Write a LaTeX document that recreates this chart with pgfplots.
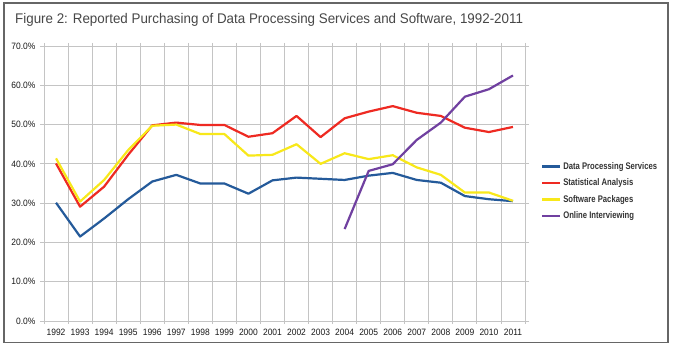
\documentclass[border=0pt]{standalone}
\usepackage{fontspec}
\setmainfont{Liberation Sans}
\usepackage{pgfplots}
\pgfplotsset{compat=1.18}
\newfontfamily\titlefont[FakeStretch=0.955]{Liberation Sans}
\newfontfamily\legfont[FakeStretch=0.8]{Liberation Sans}
\newfontfamily\tickfont[FakeStretch=0.92]{Liberation Sans}
\definecolor{dps}{HTML}{245A9A}
\definecolor{stat}{HTML}{EE2A22}
\definecolor{soft}{HTML}{F8E81A}
\definecolor{onl}{HTML}{7040A0}
\definecolor{gridc}{HTML}{C4C4C4}
\begin{document}
\begin{tikzpicture}[x=1pt,y=1pt]
\useasboundingbox (0,0) rectangle (675,348);
\fill[white] (0,0) rectangle (675,348);
\draw[line width=1.5pt, draw=black!60] (4,345) rectangle (668,5.5);
\node[anchor=base west, font=\titlefont\fontsize{14}{16}\selectfont, text=black!72, inner sep=0pt] at (15,324) {Figure 2: Reported Purchasing of Data Processing Services and Software, 1992-2011};
\begin{axis}[
  at={(44pt,27pt)}, anchor=south west,
  scale only axis, width=481pt, height=275pt,
  xmin=-0.5, xmax=19.5, ymin=0, ymax=70,
  axis line style={draw=gridc, line width=0.9pt},
  grid style={draw=gridc, line width=0.9pt},
  minor grid style={draw=gridc, line width=0.9pt},
  xtick={0,...,19},
  xticklabels={1992,1993,1994,1995,1996,1997,1998,1999,2000,2001,2002,2003,2004,2005,2006,2007,2008,2009,2010,2011},
  every major x tick/.style={draw=none},
  minor xtick={-0.5,0.5,...,19.5},
  xminorgrids,
  every minor tick/.style={draw=gridc, line width=0.9pt},
  minor tick length=3pt,
  major tick length=4pt,
  tick align=outside,
  ytick={0,10,...,70},
  yticklabels={0.0\%,10.0\%,20.0\%,30.0\%,40.0\%,50.0\%,60.0\%,70.0\%},
  every major y tick/.style={draw=gridc, line width=0.9pt},
  ymajorgrids,
  tick label style={font=\tickfont\fontsize{9.2}{10}\selectfont, text=black!90},
  yticklabel style={xshift=-1pt},
  xticklabel style={yshift=-1pt},
  legend style={at={(1.033,0.585)}, anchor=north west, draw=none, fill=none,
    font=\legfont\bfseries\fontsize{9.6}{10}\selectfont, text=black!80,
    inner sep=0pt, row sep=4pt, cells={anchor=west}},
  legend image code/.code={\draw[#1, line width=2.2pt] (0pt,0pt) -- (18pt,0pt);},
  every axis plot/.append style={line width=2.2pt, mark=none, line join=round},
]
\addplot[dps] coordinates {(0,30.1)(1,21.5)(2,26.1)(3,31.0)(4,35.5)(5,37.2)(6,35.0)(7,35.0)(8,32.4)(9,35.8)(10,36.5)(11,36.2)(12,35.9)(13,37.0)(14,37.7)(15,35.9)(16,35.2)(17,31.8)(18,31.0)(19,30.5)};
\addlegendentry{Data Processing Services}
\addplot[stat] coordinates {(0,40.1)(1,29.1)(2,34.2)(3,42.3)(4,49.8)(5,50.5)(6,49.9)(7,49.9)(8,46.9)(9,47.8)(10,52.2)(11,46.8)(12,51.6)(13,53.3)(14,54.7)(15,53.0)(16,52.2)(17,49.2)(18,48.1)(19,49.4)};
\addlegendentry{Statistical Analysis}
\addplot[soft] coordinates {(0,41.4)(1,30.4)(2,35.9)(3,43.5)(4,49.7)(5,50.0)(6,47.6)(7,47.6)(8,42.1)(9,42.3)(10,45.0)(11,40.0)(12,42.7)(13,41.2)(14,42.2)(15,39.1)(16,37.2)(17,32.7)(18,32.7)(19,30.6)};
\addlegendentry{Software Packages}
\addplot[onl] coordinates {(12,23.4)(13,38.2)(14,39.9)(15,46.1)(16,50.5)(17,57.1)(18,59.0)(19,62.5)};
\addlegendentry{Online Interviewing}
\end{axis}
\end{tikzpicture}
\end{document}
